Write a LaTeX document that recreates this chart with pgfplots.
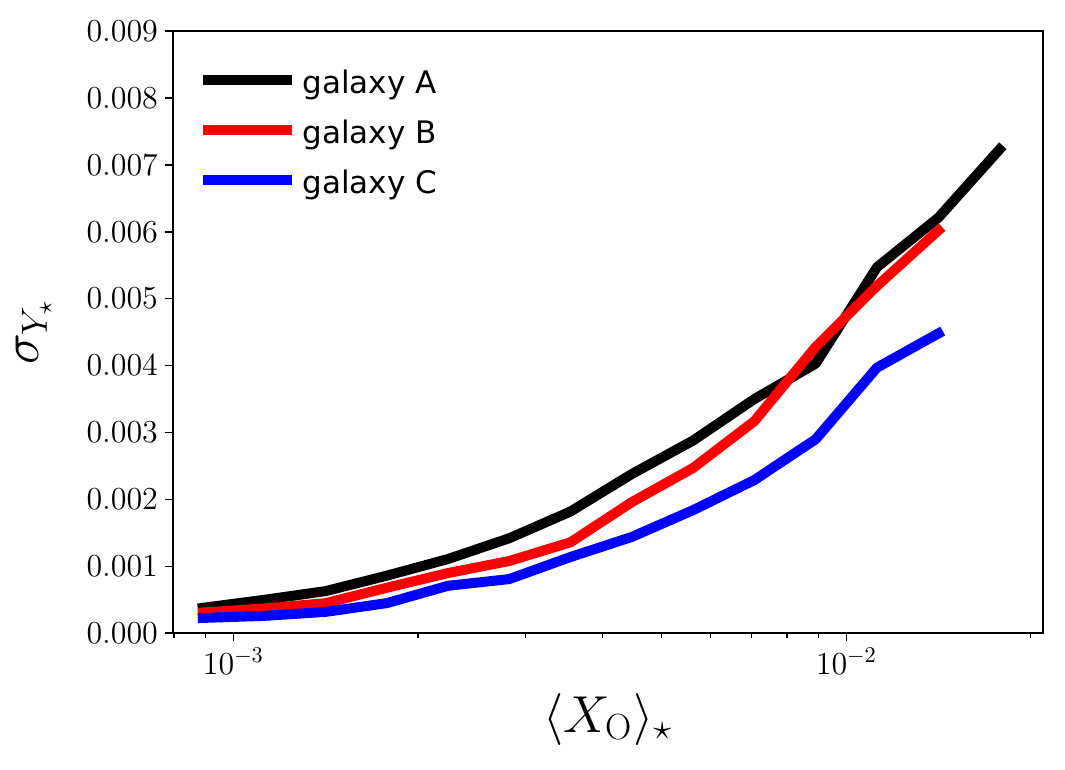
\RequirePackage{fix-cm}
\documentclass[border=0pt]{standalone}
\usepackage{fontspec}
\newfontfamily\dejavu{DejaVu Sans}
\usepackage{pgfplots}
\usepackage{pgfplotstable}
\pgfplotsset{compat=1.18}

\pgfplotstableread{
x y
8.913e-4 0.00038
1.122e-3 0.00050
1.413e-3 0.00063
1.778e-3 0.00086
2.239e-3 0.00111
2.818e-3 0.00142
3.548e-3 0.00182
4.467e-3 0.00238
5.623e-3 0.00288
7.079e-3 0.00350
8.913e-3 0.00403
1.122e-2 0.00547
1.413e-2 0.00621
1.778e-2 0.00723
}\galA
\pgfplotstableread{
x y
8.913e-4 0.00031
1.122e-3 0.00037
1.413e-3 0.00045
1.778e-3 0.00068
2.239e-3 0.00090
2.818e-3 0.00108
3.548e-3 0.00136
4.467e-3 0.00196
5.623e-3 0.00247
7.079e-3 0.00317
8.913e-3 0.00428
1.122e-2 0.00519
1.413e-2 0.00602
}\galB
\pgfplotstableread{
x y
8.913e-4 0.00023
1.122e-3 0.00026
1.413e-3 0.00032
1.778e-3 0.00045
2.239e-3 0.00071
2.818e-3 0.00081
3.548e-3 0.00114
4.467e-3 0.00144
5.623e-3 0.00184
7.079e-3 0.00229
8.913e-3 0.00290
1.122e-2 0.00397
1.413e-2 0.00448
}\galC

\begin{document}
\begin{tikzpicture}
\begin{axis}[
  scale only axis,
  width=434.85pt, height=301.15pt,
  xmode=log,
  xmin=7.97e-4, xmax=0.02091,
  ymin=0, ymax=0.009,
  ytick={0,0.001,0.002,0.003,0.004,0.005,0.006,0.007,0.008,0.009},
  scaled y ticks=false,
  yticklabel style={/pgf/number format/.cd, fixed, precision=3, fixed zerofill},
  xtick={0.001,0.01},
  minor xtick={0.0008,0.0009,0.002,0.003,0.004,0.005,0.006,0.007,0.008,0.009,0.02},
  tick align=outside, tick pos=left,
  major tick length=4pt, minor tick length=2.3pt,
  every major tick/.append style={line width=0.8pt, black},
  every minor tick/.append style={line width=0.6pt, black},
  axis line style={line width=1pt},
  ticklabel style={font=\fontsize{16}{16}\selectfont},
  xlabel={$\langle X_{\mathrm{O}}\rangle_\star$},
  ylabel={$\sigma_{Y_\star}$},
  label style={font=\fontsize{26}{26}\selectfont},
  xlabel style={at={(axis description cs:0.5,-0.1639)}, anchor=base},
  ylabel style={at={(axis description cs:-0.1541,0.5)}, anchor=base},
  legend style={
    at={(axis description cs:0.0287,0.9396)}, anchor=north west,
    draw=none, fill=none, inner sep=0pt, outer sep=0pt,
    font=\dejavu\fontsize{15.5}{18}\selectfont,
    row sep=12pt,
    nodes={inner sep=0pt, text height=13pt, text depth=0pt},
    /tikz/every odd column/.append style={column sep=3pt},
  },
  legend cell align=left,
  legend image code/.code={\draw[#1, line cap=butt] (0pt,0pt) -- (44.3pt,0pt);},
]
\addplot[black, line width=5pt, line join=round, line cap=rect, no markers] table[x=x,y=y] {\galA};
\addlegendentry{galaxy A}
\addplot[red, line width=5pt, line join=round, line cap=rect, no markers] table[x=x,y=y] {\galB};
\addlegendentry{galaxy B}
\addplot[blue, line width=5pt, line join=round, line cap=rect, no markers] table[x=x,y=y] {\galC};
\addlegendentry{galaxy C}
\coordinate (bl) at (rel axis cs:0,0);
\coordinate (tr) at (rel axis cs:1,1);
\end{axis}
\pgfresetboundingbox
\path[use as bounding box] ([xshift=-86.5pt,yshift=-68.35pt]bl) rectangle ([xshift=11.15pt,yshift=15.5pt]tr);
\end{tikzpicture}
\end{document}
